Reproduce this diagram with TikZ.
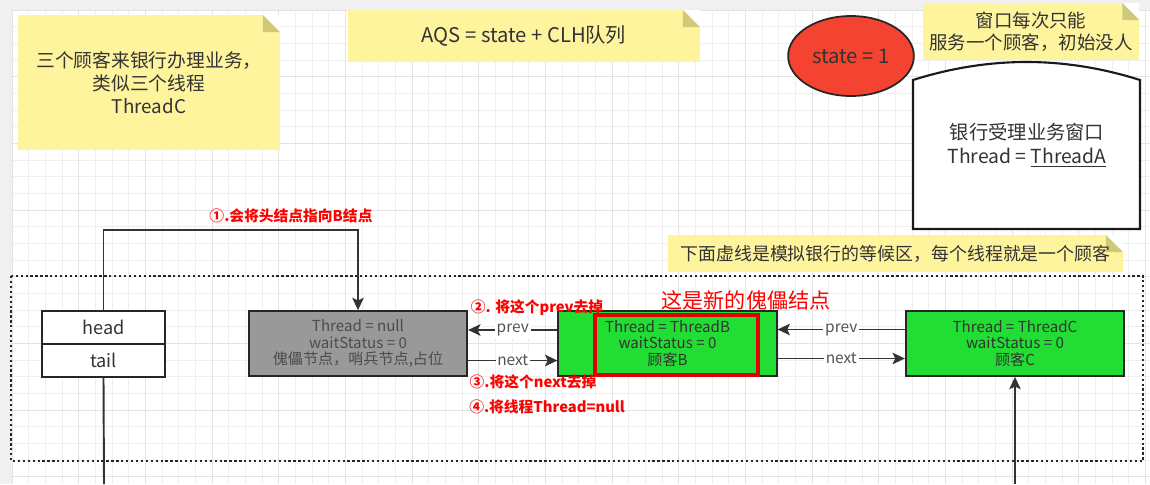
\documentclass[tikz,border=0pt]{standalone}
\usepackage{fontspec}
\setmainfont{Noto Sans CJK SC}
\usetikzlibrary{arrows.meta,calc,shapes.geometric}
\definecolor{notey}{HTML}{FFF49E}
\definecolor{notefold}{HTML}{CFC97A}
\definecolor{nodegreen}{HTML}{22DD33}
\definecolor{nodegray}{HTML}{999999}
\definecolor{statered}{HTML}{F44330}
\definecolor{txt}{HTML}{333333}
\definecolor{gridmin}{HTML}{EFEFEF}
\definecolor{gridmaj}{HTML}{E3E3E3}
\tikzset{
  note/.style={fill=notey, text=txt, align=center, inner sep=0pt,
    font=\fontsize{10.7}{13}\selectfont,
    path picture={
      \fill[white] (path picture bounding box.north east) -- ++(-0.34cm,0) -- ++(0.34cm,-0.34cm) -- cycle;
      \fill[notefold] ($(path picture bounding box.north east)+(-0.34cm,0)$) -- ++(0,-0.34cm) -- ++(0.34cm,0) -- cycle;}},
  qbox/.style={draw=black!85, line width=1pt, align=center, text=txt,
    minimum width=4.37cm, minimum height=1.3cm, font=\fontsize{8.6}{9.6}\selectfont},
  ptr/.style={draw=black!85, line width=1pt, text=txt, minimum width=2.46cm,
    minimum height=0.66cm, font=\fontsize{10.3}{12}\selectfont},
  wire/.style={draw=black!80, line width=1.1pt},
  conn/.style={wire, -{Stealth[length=7pt,width=6.5pt,inset=1.5pt]}},
  elab/.style={fill=white, inner sep=1pt, text=txt!85, font=\fontsize{8.8}{10}\selectfont},
  redlabel/.style={text=red, font=\fontsize{8.4}{10}\selectfont\bfseries, inner sep=0pt},
}
\begin{document}
\begin{tikzpicture}[x=0.02cm,y=-0.02cm]
\useasboundingbox (0,0) rectangle (1150,484);
% canvas and grid
\fill[black!6] (0,0) rectangle (1150,484);
\fill[white] (12,10) rectangle (1150,484);
\foreach \i in {0,...,68} \draw[gridmin,line width=0.4pt] ({12+16.667*\i},10) -- ({12+16.667*\i},484);
\foreach \j in {0,...,28} \draw[gridmin,line width=0.4pt] (12,{10+16.667*\j}) -- (1150,{10+16.667*\j});
\foreach \i in {0,...,17} \draw[gridmaj,line width=0.5pt] ({12+66.667*\i},10) -- ({12+66.667*\i},484);
\foreach \j in {0,...,7} \draw[gridmaj,line width=0.5pt] (12,{10+66.667*\j}) -- (1150,{10+66.667*\j});

% notes
\node[note, minimum width=5.24cm, minimum height=2.7cm] (customers) at (149,82.5)
  {三个顾客来银行办理业务，\\类似三个线程\\ThreadC};
\node[note, minimum width=7.04cm, minimum height=1.04cm, font=\fontsize{11.5}{13}\selectfont] (aqs) at (524,36)
  {AQS = state + CLH队列};
\node[note, minimum width=4.34cm, minimum height=1.14cm, font=\fontsize{10.5}{12.5}\selectfont] (winnote) at (1031,31.5)
  {窗口每次只能\\服务一个顾客，初始没人};
\node[note, minimum width=9.1cm, minimum height=0.74cm, font=\fontsize{10.2}{12}\selectfont] (waitnote) at (895.5,253.5)
  {下面虚线是模拟银行的等候区，每个线程就是一个顾客};

% state and window
\node[ellipse, draw=black!85, line width=1pt, fill=statered, text=txt,
  minimum width=2.12cm, minimum height=1.6cm, font=\fontsize{11.5}{12}\selectfont] (state) at (851,56) {state = 1};
\draw[draw=black!90, line width=1.2pt, fill=white] (913,229) -- (913,80)
  .. controls (989,56) and (1064,56) .. (1140,80) -- (1140,229) -- cycle;
\node[align=center, text=txt, font=\fontsize{11}{13.6}\selectfont] (window) at (1027,145)
  {银行受理业务窗口\\Thread = \underline{ThreadA}};

% waiting area
\draw[draw=black!85, line width=1.4pt, dash pattern=on 1.3pt off 1.5pt] (11,276) rectangle (1143,461);

% queue
\node[ptr, fill=white] (head) at (103.5,327.5) {head};
\node[ptr, fill=white] (tail) at (103.5,360.5) {tail};
\node[qbox, fill=nodegray, text=black!70] (dummy) at (358,343.5)
  {Thread = null\\waitStatus = 0\\傀儡节点，哨兵节点,占位};
\node[qbox, fill=nodegreen] (nodeB) at (667.5,343.5)
  {Thread = ThreadB\\waitStatus = 0\\顾客B};
\node[qbox, fill=nodegreen] (nodeC) at (1015,343.5)
  {Thread = ThreadC\\waitStatus = 0\\顾客C};
\node[draw=red!90!black, line width=2.3pt, minimum width=3.26cm, minimum height=1.2cm, inner sep=0pt] (newhead) at (676.5,345) {};

% links
\draw[conn] (head.north) -- ++(0,-80) -| (dummy.north);
\coordinate (tailend) at (104,484);
\draw[wire] (tail.south) -- (tailend);
\coordinate (cstart) at (1015,484);
\draw[conn] (cstart) -- (nodeC.south);
\draw[conn] ($(nodeB.west)+(0,-13.5)$) -- node[elab] {prev} ($(dummy.east)+(0,-13.5)$);
\draw[conn] ($(dummy.east)+(0,17)$) -- node[elab] {next} ($(nodeB.west)+(0,17)$);
\draw[conn] ($(nodeC.west)+(0,-14)$) -- node[elab] {prev} ($(nodeB.east)+(0,-14)$);
\draw[conn] ($(nodeB.east)+(0,15)$) -- node[elab] {next} ($(nodeC.west)+(0,15)$);

% steps
\node[redlabel] (step1) at (291,216) {①.会将头结点指向B结点};
\node[redlabel] (step2) at (537,308) {②. 将这个prev去掉};
\node[redlabel] (step3) at (533,382) {③.将这个next去掉};
\node[redlabel] (step4) at (547,407) {④.将线程Thread=null};
\node[text=red, font=\fontsize{12}{14}\selectfont, inner sep=0pt] (newlabel) at (746,300) {这是新的傀儡结点};
\end{tikzpicture}
\end{document}
